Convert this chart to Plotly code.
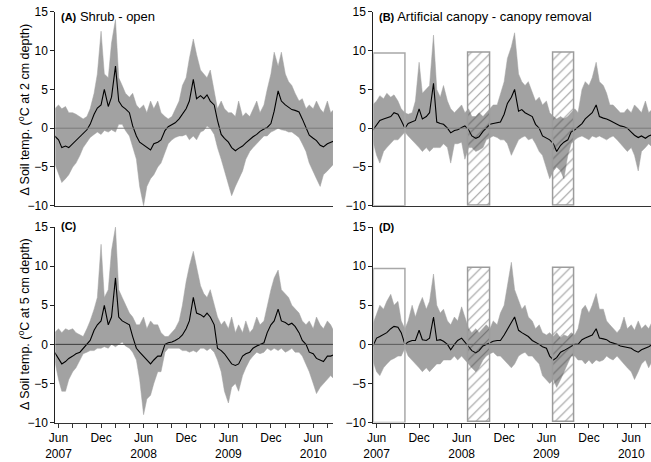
import pandas as pd
import plotly.graph_objects as go

# ---------------- data (semi-monthly samples) ----------------
dates = pd.date_range("2007-05-15", "2010-09-01", freq="SMS")  # 80 semi-monthly dates

# Panel A: shrub - open, 2 cm depth
a_mean = [-1.0, -1.5, -2.5, -2.3, -2.5, -2.0, -1.6, -1.2, -0.8, -0.2,
          0.5, 1.8, 2.6, 3.0, 5.0, 2.8, 4.0, 8.0, 3.5, 2.8,
          2.5, 2.0, 0.3, -1.0, -1.8, -2.2, -2.5, -2.8, -2.0, -1.8,
          -1.5, -0.3, 0.2, 0.5, 0.7, 1.2, 1.8, 2.5, 3.5, 6.3,
          3.8, 4.2, 3.8, 4.3, 3.5, 3.0, 1.0, -0.8, -1.3, -1.8,
          -2.5, -2.9, -2.6, -2.3, -1.9, -1.4, -1.1, -0.8, -0.4, -0.1,
          0.1, 0.6, 2.2, 4.8, 3.5, 3.0, 2.7, 2.4, 2.3, 2.1,
          1.2, 0.0, -0.9, -1.3, -1.6, -2.2, -2.4, -2.0, -1.8, -1.6]
a_hi = [2.5, 3.0, 2.5, 2.8, 2.0, 2.0, 1.8, 1.5, 1.2, 1.5,
        2.5, 4.5, 7.0, 12.5, 7.0, 6.5, 11.0, 14.0, 6.5, 5.5,
        4.5, 4.0, 4.5, 3.0, 2.5, 3.0, 2.0, 3.5, 2.5, 3.5,
        2.0, 1.5, 1.2, 1.5, 2.5, 3.5, 5.5, 6.5, 9.0, 11.5,
        9.5, 7.5, 7.0, 6.5, 7.5, 5.0, 2.5, 3.5, 2.5, 2.0,
        2.0, 1.5, 3.5, 1.5, 2.0, 1.5, 2.5, 3.5, 2.0, 3.0,
        5.0, 7.0, 9.8, 8.0, 9.8, 7.0, 6.0, 5.5, 4.5, 3.5,
        3.8, 2.5, 3.0, 2.5, 3.5, 2.5, 2.0, 3.5, 2.0, 2.5]
a_lo = [-4.5, -6.0, -7.0, -6.5, -6.0, -5.0, -4.5, -3.5, -2.5, -1.8,
        -1.2, -0.8, -0.5, -0.8, -0.3, -0.5, -0.2, -0.5, 0.5, 0.5,
        -0.3, -1.0, -2.5, -4.0, -7.5, -10.0, -7.5, -6.5, -6.0, -5.0,
        -4.5, -3.0, -2.0, -1.5, -1.2, -1.0, -1.0, -0.8, -1.5, -1.0,
        -1.5, -0.5, -0.3, 0.3, 0.0, -0.8, -2.5, -4.0, -5.5, -7.5,
        -8.7, -7.5, -6.5, -5.5, -4.0, -3.0, -2.5, -2.0, -1.5, -1.0,
        -1.0, -0.5, -0.3, 0.0, -0.2, -0.3, -0.5, -0.5, -0.8, -1.2,
        -2.0, -3.0, -4.5, -5.5, -6.5, -7.5, -6.0, -5.5, -5.0, -4.5]

# Panel B: artificial canopy - canopy removal, 2 cm depth
b_mean = [-0.3, 0.5, 1.0, 1.2, 1.3, 1.5, 2.0, 1.8, 1.0, 0.0,
          0.6, 0.8, 1.0, 2.5, 1.2, 1.5, 2.0, 5.8, 0.8, 0.6,
          0.5, 0.0, -0.6, -0.3, -0.2, 0.1, 0.3, -0.2, -1.0, -1.3,
          -1.1, -0.4, 0.0, 0.5, 0.6, 0.7, 0.8, 1.8, 3.2, 4.0,
          5.0, 2.2, 2.4, 2.0, 1.8, 1.5, 0.5, 0.0, -1.0, -1.3,
          -1.5, -2.0, -3.0, -2.2, -1.8, -1.5, -0.5, -0.2, 0.2, 0.6,
          1.2, 1.6, 2.0, 3.0, 1.5, 1.3, 1.2, 1.0, 0.8, 0.5,
          0.3, 0.2, 0.0, -0.5, -0.9, -1.2, -1.0, -1.3, -1.0, -0.8]
b_hi = [3.0, 3.5, 4.2, 3.8, 4.5, 4.0, 4.3, 3.5, 2.5, 2.0,
        1.8, 2.0, 3.5, 8.5, 4.5, 5.0, 5.5, 12.0, 5.0, 4.0,
        5.5, 3.5, 2.5, 2.0, 2.5, 3.0, 2.0, 2.5, 1.5, 1.5,
        2.0, 1.5, 2.0, 2.5, 3.0, 3.0, 4.5, 6.0, 9.0, 10.5,
        12.3, 7.0, 6.0, 5.5, 6.0, 4.5, 3.5, 4.0, 3.0, 3.5,
        2.0, 1.5, 1.2, 1.5, 1.2, 1.5, 2.0, 2.5, 2.0, 5.0,
        6.0, 5.5, 6.5, 8.5, 6.0, 5.5, 4.5, 3.0, 3.0, 2.5,
        2.0, 2.0, 2.5, 2.0, 3.0, 2.5, 2.0, 3.5, 2.0, 2.5]
b_lo = [-1.5, -3.5, -4.5, -3.0, -2.5, -2.0, -1.5, -1.5, -1.0, -0.5,
        -1.0, -1.5, -2.0, -2.5, -3.0, -2.5, -3.0, -2.5, -2.5, -2.5,
        -2.0, -2.5, -4.5, -2.0, -2.0, -1.8, -4.0, -2.5, -2.5, -3.0,
        -2.8, -2.5, -1.5, -1.2, -1.0, -1.2, -1.5, -1.5, -2.0, -3.5,
        -2.5, -1.5, -1.2, -1.0, -1.5, -1.3, -2.0, -3.0, -3.5, -5.0,
        -6.5, -5.5, -5.0, -5.5, -6.5, -3.5, -2.0, -1.5, -1.2, -1.0,
        -1.2, -1.5, -1.0, -1.2, -1.0, -1.3, -1.5, -1.2, -1.0, -1.5,
        -2.0, -2.5, -3.0, -2.5, -3.5, -5.5, -3.0, -2.5, -2.0, -2.5]

# Panel C: shrub - open, 5 cm depth
c_mean = [-1.0, -1.8, -2.5, -2.2, -1.8, -1.5, -1.2, -1.0, -0.5, 0.0,
          0.5, 1.8, 2.5, 3.0, 5.0, 2.5, 3.5, 8.5, 3.5, 3.0,
          2.8, 2.5, 1.0, -0.5, -1.0, -1.5, -2.0, -2.5, -2.0, -1.5,
          -1.5, 0.0, 0.2, 0.3, 0.5, 0.8, 1.2, 2.0, 3.0, 6.0,
          4.0, 3.8, 3.5, 4.0, 3.5, 2.5, -0.5, -0.8, -1.2, -2.0,
          -2.5, -2.7, -2.5, -1.5, -1.2, -1.0, -0.5, -0.2, 0.0, 0.2,
          1.5, 2.5, 3.0, 4.5, 3.0, 2.8, 2.5, 2.7, 2.3, 1.5,
          0.5, 0.0, -1.0, -1.2, -1.8, -2.0, -2.2, -1.5, -1.5, -1.3]
c_hi = [1.5, 2.0, 1.5, 2.0, 1.8, 2.0, 1.5, 1.2, 1.0, 2.0,
        3.0, 4.5, 6.0, 12.8, 6.0, 7.0, 12.0, 15.0, 7.0, 6.0,
        5.0, 4.0, 3.5, 2.5, 2.5, 3.5, 2.0, 3.0, 2.5, 2.5,
        1.5, 1.0, 1.0, 1.5, 2.0, 3.0, 5.0, 8.0, 10.0, 11.9,
        10.0, 7.5, 6.5, 6.0, 7.0, 5.0, 3.5, 2.5, 3.0, 2.0,
        3.5, 1.5, 2.5, 1.5, 3.0, 1.5, 2.0, 3.5, 2.5, 3.0,
        5.0, 7.0, 8.5, 9.5, 7.0, 6.5, 6.0, 5.0, 4.5, 4.0,
        3.0, 2.5, 3.0, 2.0, 3.5, 2.5, 2.0, 3.0, 2.5, 1.5]
c_lo = [-2.0, -4.5, -6.0, -6.0, -4.5, -3.5, -3.0, -2.0, -1.2, -1.0,
        -0.8, -0.8, -0.5, -0.5, -0.3, -0.5, 0.0, -0.3, 0.0, 0.3,
        -0.2, -0.5, -1.0, -2.0, -4.5, -9.0, -7.0, -6.5, -5.0, -3.5,
        -3.5, -1.0, -0.5, -0.5, -0.5, -0.5, -0.8, -0.8, -1.0, -0.8,
        -1.0, -0.5, -0.5, -0.8, -0.5, -1.0, -2.0, -3.5, -6.0, -7.5,
        -5.5, -5.0, -6.0, -4.0, -3.0, -2.0, -1.5, -1.0, -1.2, -1.0,
        -0.5, -0.8, -0.5, -0.8, -0.5, -1.0, -0.8, -0.5, -1.0, -1.0,
        -1.5, -2.5, -3.5, -5.0, -6.3, -5.5, -5.0, -4.5, -4.0, -4.5]

# Panel D: artificial canopy - canopy removal, 5 cm depth
d_mean = [-0.3, 0.8, 1.0, 1.3, 1.5, 2.0, 2.3, 2.2, 1.5, 0.0,
          0.3, 0.5, 0.5, 1.8, 0.6, 0.5, 0.8, 3.5, 0.5, 0.6,
          0.4, 0.0, -0.7, 0.0, 0.5, 0.8, 0.3, -0.3, -0.8, -1.1,
          -0.8, -0.2, 0.0, 0.3, 0.4, 0.5, 0.5, 1.2, 2.0, 2.8,
          3.5, 1.8, 1.5, 1.3, 1.0, 0.5, 0.3, 0.0, -0.3, -0.5,
          -1.5, -2.0, -1.7, -1.0, -0.8, -0.5, -0.2, 0.0, 0.0, 0.6,
          0.8, 1.0, 1.2, 2.0, 0.8, 0.7, 0.6, 0.3, 0.2, 0.0,
          -0.2, -0.3, -0.4, -0.5, -0.8, -1.0, -0.7, -0.5, -0.3, 0.0]
d_hi = [2.5, 4.0, 5.0, 4.5, 5.5, 6.4, 5.0, 5.5, 3.0, 2.0,
        3.0, 5.0, 3.5, 5.0, 6.0, 4.5, 5.5, 9.0, 5.0, 4.0,
        4.5, 3.0, 2.5, 3.5, 3.0, 4.8, 3.5, 2.0, 1.5, 2.0,
        1.5, 2.0, 2.5, 2.0, 3.0, 2.5, 4.0, 5.0, 7.5, 10.5,
        7.0, 5.5, 4.5, 5.0, 3.5, 3.0, 2.0, 2.5, 1.5, 1.2,
        1.5, 1.0, 1.5, 0.8, 1.2, 1.0, 1.5, 1.2, 2.0, 4.5,
        5.0, 4.0, 5.0, 6.5, 4.5, 4.5, 3.0, 2.5, 2.0, 1.5,
        2.0, 3.5, 2.0, 2.5, 1.8, 3.0, 2.0, 2.5, 2.0, 3.0]
d_lo = [-2.0, -3.5, -4.0, -3.0, -2.5, -2.0, -1.8, -1.5, -1.5, -0.5,
        -1.5, -2.0, -2.5, -3.0, -3.5, -3.0, -3.5, -3.0, -2.5, -2.5,
        -2.0, -2.0, -2.0, -1.5, -2.0, -1.5, -2.0, -2.5, -3.0, -3.5,
        -3.0, -2.0, -1.5, -1.2, -1.0, -1.5, -1.5, -2.0, -2.5, -3.0,
        -2.5, -1.5, -1.2, -1.0, -1.5, -1.5, -2.0, -2.5, -4.0, -4.5,
        -5.0, -4.5, -5.5, -4.5, -3.5, -2.5, -1.5, -1.5, -2.0, -2.0,
        -2.5, -2.0, -2.5, -2.0, -2.2, -2.0, -1.5, -1.8, -2.0, -1.5,
        -2.0, -2.5, -3.0, -3.5, -4.5, -3.5, -2.5, -2.0, -3.0, -2.0]

# treatment periods shown in panels B and D
open_box = ("2007-05-18", "2007-10-01")
hatched_boxes = [("2008-07-01", "2008-10-01"), ("2009-07-01", "2009-10-01")]
box_top = 9.7

panel_titles = ["<b>(A)</b>", "<b>(B)</b>", "<b>(C)</b>", "<b>(D)</b>"]
panel_names = ["Shrub - open", "Artificial canopy - canopy removal", "", ""]
y_titles = ["\u0394 Soil temp. (<sup>o</sup>C at 2 cm depth)",
            "\u0394 Soil temp. (<sup>o</sup>C at 5 cm depth)"]
y_ticks = [-10, -5, 0, 5, 10, 15]
x_range = ["2007-05-18", "2010-08-25"]

# ---------------- figure ----------------
GRAY = "#a2a2a2"
FONT = "Liberation Sans, Arial, sans-serif"
W, H = 651, 462

fig = go.Figure()
panels = [("x", "y", a_lo, a_hi, a_mean), ("x2", "y2", b_lo, b_hi, b_mean),
          ("x3", "y3", c_lo, c_hi, c_mean), ("x4", "y4", d_lo, d_hi, d_mean)]
for xa, ya, lo, hi, mean in panels:
    fig.add_trace(go.Scatter(x=dates, y=lo, xaxis=xa, yaxis=ya, mode="lines",
                             line=dict(width=0.5, color=GRAY), hoverinfo="skip", showlegend=False))
    fig.add_trace(go.Scatter(x=dates, y=hi, xaxis=xa, yaxis=ya, mode="lines", fill="tonexty",
                             fillcolor=GRAY, line=dict(width=0.5, color=GRAY),
                             hoverinfo="skip", showlegend=False))
    fig.add_trace(go.Scatter(x=dates, y=mean, xaxis=xa, yaxis=ya, mode="lines",
                             line=dict(width=1.1, color="black"), hoverinfo="skip", showlegend=False))

# hatched boxes (B and D), on overlay axes so they sit on top of the data
centers, widths = [], []
for s, e in hatched_boxes:
    s_, e_ = pd.Timestamp(s), pd.Timestamp(e)
    centers.append(s_ + (e_ - s_) / 2)
    widths.append((e_ - s_).total_seconds() * 1000)
for xa, ya in [("x5", "y5"), ("x6", "y6")]:
    fig.add_trace(go.Bar(x=centers, y=[box_top + 10] * len(centers), base=[-10] * len(centers),
                         width=widths, xaxis=xa, yaxis=ya, hoverinfo="skip", showlegend=False,
                         marker=dict(color="rgba(0,0,0,0)",
                                     pattern=dict(shape="/", fgcolor="#3c3c3c", bgcolor="rgba(0,0,0,0)",
                                                  size=7, solidity=0.16),
                                     line=dict(color="#9c9c9c", width=1.5))))

shapes = []
for xa, ya, col in [("x", "y", "#7a7a7a"), ("x2", "y2", "#7a7a7a"),
                    ("x3", "y3", "#3a3a3a"), ("x4", "y4", "#5a5a5a")]:
    shapes.append(dict(type="line", xref=f"{xa} domain", yref=ya, x0=0, x1=1, y0=0, y1=0,
                       line=dict(color=col, width=1), layer="above"))
for xa, ya in [("x2", "y2"), ("x4", "y4")]:
    shapes.append(dict(type="rect", xref=xa, yref=ya, x0=open_box[0], x1=open_box[1],
                       y0=-10, y1=box_top, line=dict(color="#a8a8a8", width=1.5), layer="above"))

# x ticks every two months (minor), labelled at Jun and Dec
minor_ticks = pd.date_range("2007-06-01", "2010-08-01", freq="2MS")
major_ticks = [d for d in minor_ticks if d.month in (6, 12)]
major_text = [f"Jun<br>{d.year}" if d.month == 6 else "Dec" for d in major_ticks]

xl = [46 / W, 328 / W]
xr = [369 / W, 651 / W]
yt = [(H - 205) / H, (H - 5) / H]
yb = [(H - 428.5) / H, (H - 227) / H]

def xaxis(domain, anchor, bottom):
    d = dict(domain=domain, anchor=anchor, range=x_range, type="date", showgrid=False,
             zeroline=False, showline=True, linecolor="#333", linewidth=1)
    if bottom:
        d.update(tickmode="array", tickvals=major_ticks, ticktext=major_text, ticks="outside",
                 ticklen=4, tickcolor="#333", tickfont=dict(size=12, color="black", family=FONT),
                 minor=dict(tickmode="array", tickvals=list(minor_ticks), ticks="outside",
                            ticklen=4, tickcolor="#333", showgrid=False))
    else:
        d.update(showticklabels=False, ticks="")
    return d

def yaxis(domain, anchor):
    return dict(domain=domain, anchor=anchor, range=[-10, 15], tickvals=y_ticks, ticks="outside",
                ticklen=4, tickcolor="#222", showgrid=False, zeroline=False, showline=True,
                linecolor="#222", linewidth=1, tickfont=dict(size=12, color="black", family=FONT))

def overlay_x(domain, base, anchor):
    return dict(domain=domain, overlaying=base, anchor=anchor, range=x_range, type="date",
                visible=False, showgrid=False, zeroline=False)

def overlay_y(domain, base, anchor):
    return dict(domain=domain, overlaying=base, anchor=anchor, range=[-10, 15],
                visible=False, showgrid=False, zeroline=False)

annotations = []
label_pos = [(50, 10), (373, 10), (50, 226), (373, 227)]
for (px, py), t, n in zip(label_pos, panel_titles, panel_names):
    txt = f"<span style='font-size:11px'>{t}</span>" + (f" {n}" if n else "")
    annotations.append(dict(x=px / W, y=(H - py) / H, xref="paper", yref="paper", text=txt,
                            showarrow=False, xanchor="left", yanchor="middle",
                            font=dict(size=13, color="black", family=FONT)))
for yt_text, cy in zip(y_titles, [106, 327]):
    annotations.append(dict(x=14 / W, y=(H - cy) / H, xref="paper", yref="paper", text=yt_text,
                            showarrow=False, textangle=-90, xanchor="center", yanchor="middle",
                            font=dict(size=12.5, color="black", family=FONT)))

fig.update_layout(
    width=W, height=H, margin=dict(l=0, r=0, t=0, b=0),
    paper_bgcolor="white", plot_bgcolor="white", showlegend=False, bargap=0,
    font=dict(family=FONT, color="black"),
    xaxis=xaxis(xl, "y", False), xaxis2=xaxis(xr, "y2", False),
    xaxis3=xaxis(xl, "y3", True), xaxis4=xaxis(xr, "y4", True),
    yaxis=yaxis(yt, "x"), yaxis2=yaxis(yt, "x2"),
    yaxis3=yaxis(yb, "x3"), yaxis4=yaxis(yb, "x4"),
    xaxis5=overlay_x(xr, "x2", "y5"), yaxis5=overlay_y(yt, "y2", "x5"),
    xaxis6=overlay_x(xr, "x4", "y6"), yaxis6=overlay_y(yb, "y4", "x6"),
    shapes=shapes, annotations=annotations,
)

fig.write_html("out.html", config={"displayModeBar": False},
               post_script="document.body.style.margin='0';document.body.style.overflow='hidden';")
